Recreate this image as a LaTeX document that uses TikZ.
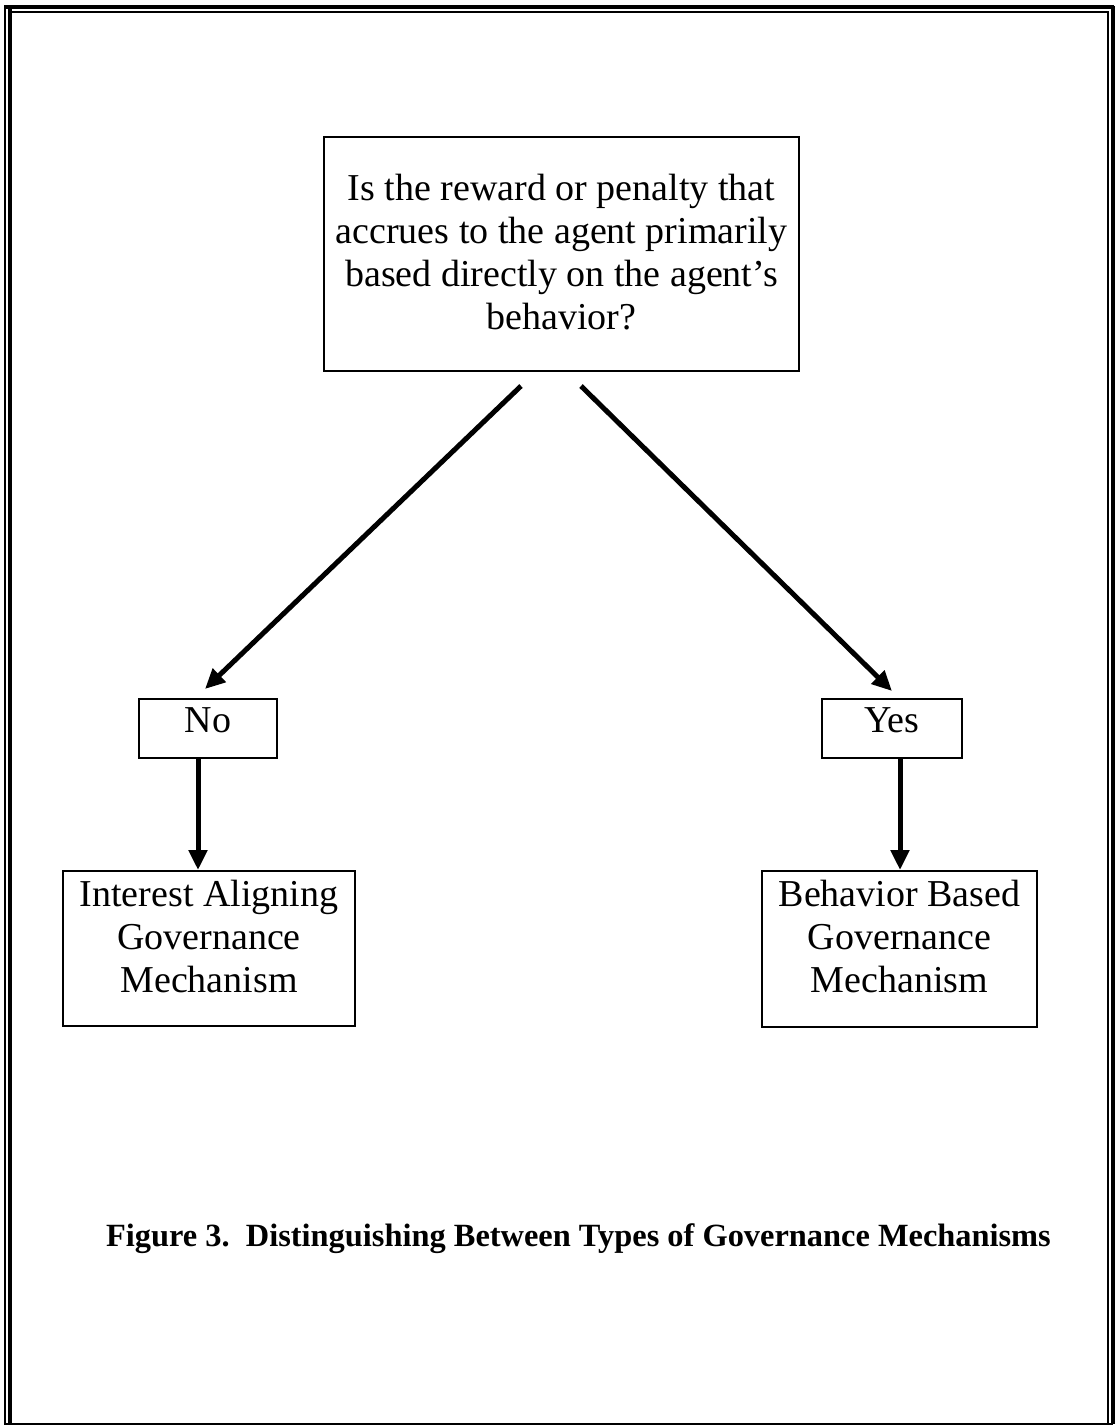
\documentclass[tikz,border=0pt]{standalone}
\usepackage{fontspec}
\setmainfont{Liberation Serif}
\usetikzlibrary{arrows.meta}
\begin{document}
\begin{tikzpicture}[x=0.5pt,y=-0.5pt,
  box/.style={draw, line width=1pt, inner sep=0pt, align=center,
    font=\fontsize{19}{21.5}\selectfont},
  arr/.style={line width=2.5pt, -{Triangle[length=10pt,width=9pt]}},
  thinrule/.style={line width=1pt},
  thickrule/.style={line width=2pt}]
\useasboundingbox (0,0) rectangle (1116,1425);
% page frame
\draw[thinrule] (5,5) -- (5,1424);
\draw[thickrule] (10,6) -- (10,1424);
\draw[thickrule] (4,6.5) -- (1114,6.5);
\draw[thinrule] (10,11.5) -- (1108,11.5);
\draw[thinrule] (1107.5,11) -- (1107.5,1424);
\draw[thickrule] (1112.5,5.5) -- (1112.5,1424);
\draw[thinrule] (4,1423.5) -- (1113,1423.5);
% boxes
\node[box, minimum width=237.5pt, minimum height=117pt] (q) at (561.5,254)
  {Is the reward or penalty that\\accrues to the agent primarily\\based directly on the agent’s\\behavior?\rule[-2.5pt]{0pt}{2.5pt}};
\node[box, minimum width=69pt, minimum height=29.5pt] (no) at (208,728.5) {No\rule[-8pt]{0pt}{8pt}};
\node[box, minimum width=70pt, minimum height=29.5pt] (yes) at (892,728.5) {Yes\rule[-8pt]{0pt}{8pt}};
\node[box, minimum width=146pt, minimum height=77.5pt] (ia) at (209,948.5)
  {Interest Aligning\\Governance\\Mechanism\rule[-12.5pt]{0pt}{12.5pt}};
\node[box, minimum width=137.5pt, minimum height=78pt] (bb) at (899.5,949)
  {Behavior Based\\Governance\\Mechanism\rule[-12.5pt]{0pt}{12.5pt}};
% connectors
\coordinate (qL) at (521,386);
\coordinate (qR) at (581,386);
\draw[arr] (qL) -- ([shift={(-3,-9)}]no.north);
\draw[arr] (qR) -- ([shift={(0,-7)}]yes.north);
\coordinate (nb) at ([xshift=-5pt]no.south);
\draw[arr] (nb) -- (nb |- ia.north);
\coordinate (yb) at ([xshift=4pt]yes.south);
\draw[arr] (yb) -- (yb |- bb.north);
% caption
\node[font=\bfseries\fontsize{16.2}{19}\selectfont, anchor=base, inner sep=0pt] (cap) at (578.5,1246)
  {Figure 3.\ \ Distinguishing Between Types of Governance Mechanisms};
\end{tikzpicture}
\end{document}
